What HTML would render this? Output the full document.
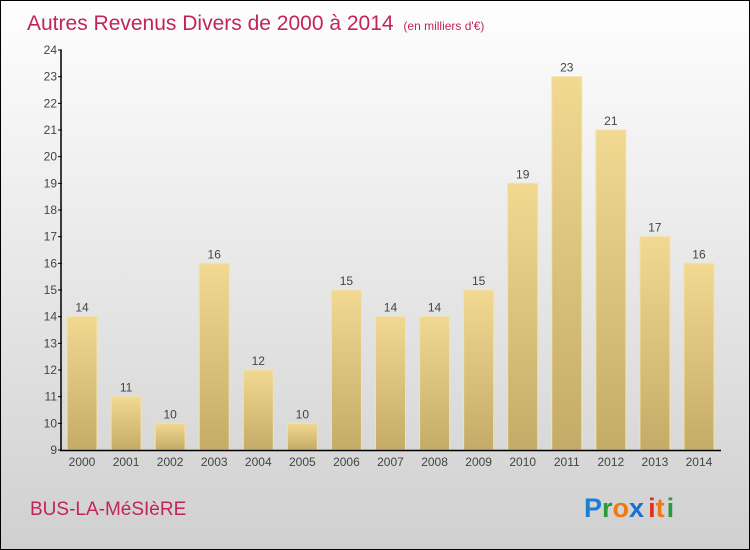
<!DOCTYPE html>
<html><head><meta charset="utf-8"><style>
html,body{margin:0;padding:0}
body{width:750px;height:550px;overflow:hidden;font-family:"Liberation Sans",sans-serif}
#frame{position:absolute;left:0;top:0;width:748px;height:548px;border:1px solid #000;background:linear-gradient(#fefefe,#d0d0d0)}
</style></head><body>
<div id="frame">
<svg width="750" height="550" style="position:absolute;left:-1px;top:-1px" id="chart">
<defs><linearGradient id="bg" x1="0" y1="0" x2="0" y2="1"><stop offset="0" stop-color="#f2d992"/><stop offset="1" stop-color="#c4ab67"/></linearGradient></defs>
<text x="27" y="30" font-size="21" fill="#c2245a">Autres Revenus Divers de 2000 à 2014 <tspan font-size="12" dx="4">(en milliers d'€)</tspan></text>
<text x="30" y="515" font-size="19" fill="#c2245a">BUS-LA-MéSIèRE</text>
<text x="584" y="517" font-size="27" font-weight="bold"><tspan fill="#1a7fd4">P</tspan><tspan fill="#2a9a3a">r</tspan><tspan fill="#f07a10">o</tspan><tspan fill="#1a6fd0">x</tspan><tspan fill="#e03020" dx="4">i</tspan><tspan fill="#f07a10">t</tspan><tspan fill="#2a9a3a" dx="2">i</tspan></text>
<g id="plot"></g>
</svg>
</div>
<script>
const years=["2000","2001","2002","2003","2004","2005","2006","2007","2008","2009","2010","2011","2012","2013","2014"];
const values=[14,11,10,16,12,10,15,14,14,15,19,23,21,17,16];
const yTicks=[9,10,11,12,13,14,15,16,17,18,19,20,21,22,23,24];
const NS="http://www.w3.org/2000/svg";
const g=document.getElementById('plot');
const y=v=>450-(v-9)*400/15;
const x=i=>82+i*44.07;
function el(t,a){const e=document.createElementNS(NS,t);for(const k in a)e.setAttribute(k,a[k]);g.appendChild(e);return e;}
years.forEach((yr,i)=>{
  const b=el('rect',{x:x(i)-15,y:y(values[i]),width:30,height:450-y(values[i]),fill:'url(#bg)',stroke:'#f5e2a6','stroke-width':1});
  
  
  const v=el('text',{x:x(i),y:y(values[i])-5,'font-size':12,fill:'#444','text-anchor':'middle'});
  v.textContent=values[i];
  
  
  const l=el('text',{x:x(i),y:466,'font-size':12,fill:'#444','text-anchor':'middle'});
  l.textContent=yr;
  
  
});
yTicks.forEach(t=>{
  el('line',{x1:58,x2:62,y1:y(t),y2:y(t),stroke:'#000'});
  const l=el('text',{x:57,y:y(t)+4,'font-size':12,fill:'#444','text-anchor':'end'});
  l.textContent=t;
  
  
});
const ya=el('line',{x1:61,x2:61,y1:50,y2:451,stroke:'#000','stroke-width':1.5});


const xa=el('line',{x1:60,x2:721,y1:450.5,y2:450.5,stroke:'#000','stroke-width':1.5});


</script>
</body></html>
